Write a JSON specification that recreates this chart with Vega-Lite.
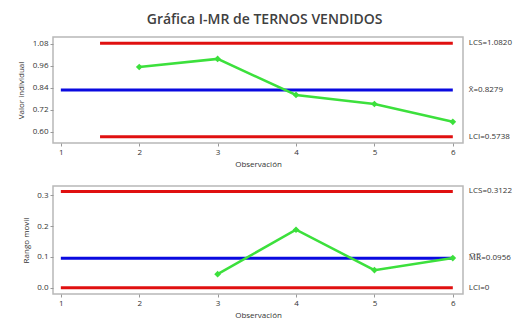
{
  "$schema": "https://vega.github.io/schema/vega-lite/v6.json",
  "background": "white",
  "padding": {"left": 16, "right": 4, "top": 13, "bottom": 2},
  "title": {"text": "Gráfica I-MR de TERNOS VENDIDOS", "fontSize": 14, "font": "Open Sans", "fontWeight": 600, "color": "#404040", "anchor": "middle", "offset": 9},
  "datasets": {
    "ind": [
      {"obs": 2, "value": 0.953},
      {"obs": 3, "value": 0.997},
      {"obs": 4, "value": 0.801},
      {"obs": 5, "value": 0.752},
      {"obs": 6, "value": 0.655}
    ],
    "indlim": [
      {"kind": "lim", "x0": 1.5, "x1": 6, "value": 1.082, "label": "LCS=1.0820"},
      {"kind": "center", "x0": 1, "x1": 6, "value": 0.8279, "label": "X̄=0.8279"},
      {"kind": "lim", "x0": 1.5, "x1": 6, "value": 0.5738, "label": "LCI=0.5738"}
    ],
    "mr": [
      {"obs": 3, "value": 0.044},
      {"obs": 4, "value": 0.188},
      {"obs": 5, "value": 0.057},
      {"obs": 6, "value": 0.096}
    ],
    "mrlim": [
      {"kind": "lim", "x0": 1, "x1": 6, "value": 0.3122, "label": "LCS=0.3122"},
      {"kind": "center", "x0": 1, "x1": 6, "value": 0.0956, "label": "M̅R̅=0.0956"},
      {"kind": "lim", "x0": 1, "x1": 6, "value": 0, "label": "LCI=0"}
    ]
  },
  "config": {
    "font": "Open Sans",
    "view": {"stroke": "#b8b8b8", "strokeWidth": 1.5},
    "axis": {"grid": false, "domain": false, "labelFontSize": 8, "labelColor": "#333333", "titleFontSize": 8, "titleFontWeight": "normal", "titleColor": "#333333", "tickColor": "#999999", "tickSize": 3, "labelPadding": 2, "labelOverlap": false, "tickCount": 20},
    "concat": {"spacing": 16}
  },
  "vconcat": [
    {
      "width": 410,
      "height": 106,
      "layer": [
        {
          "data": {"name": "indlim"},
          "mark": {"type": "rule", "strokeWidth": 3},
          "encoding": {
            "x": {"field": "x0", "type": "quantitative", "scale": {"domain": [0.9, 6.13], "nice": false, "zero": false}, "axis": {"values": [1, 2, 3, 4, 5, 6], "format": "d", "title": "Observación", "titlePadding": 4}},
            "x2": {"field": "x1"},
            "y": {"field": "value", "type": "quantitative", "scale": {"domain": [0.54, 1.116], "nice": false, "zero": false}, "axis": {"values": [0.6, 0.72, 0.84, 0.96, 1.08], "format": ".2f", "title": "Valor individual", "titlePadding": 7, "tickCount": 20}},
            "color": {"field": "kind", "type": "nominal", "scale": {"domain": ["lim", "center"], "range": ["#e01010", "#0a0ae0"]}, "legend": null}
          }
        },
        {
          "data": {"name": "indlim"},
          "mark": {"type": "text", "align": "left", "baseline": "middle", "dx": 16, "fontSize": 8, "color": "#333333"},
          "encoding": {
            "x": {"field": "x1", "type": "quantitative"},
            "y": {"field": "value", "type": "quantitative"},
            "text": {"field": "label"}
          }
        },
        {
          "data": {"name": "ind"},
          "mark": {"type": "line", "color": "#3ce03c", "strokeWidth": 2.5, "point": {"shape": "diamond", "size": 45, "filled": true, "color": "#3ce03c"}},
          "encoding": {
            "x": {"field": "obs", "type": "quantitative"},
            "y": {"field": "value", "type": "quantitative"}
          }
        }
      ]
    },
    {
      "width": 410,
      "height": 108,
      "layer": [
        {
          "data": {"name": "mrlim"},
          "mark": {"type": "rule", "strokeWidth": 3},
          "encoding": {
            "x": {"field": "x0", "type": "quantitative", "scale": {"domain": [0.9, 6.13], "nice": false, "zero": false}, "axis": {"values": [1, 2, 3, 4, 5, 6], "format": "d", "title": "Observación", "titlePadding": 4}},
            "x2": {"field": "x1"},
            "y": {"field": "value", "type": "quantitative", "scale": {"domain": [-0.0205, 0.33], "nice": false, "zero": false}, "axis": {"values": [0, 0.1, 0.2, 0.3], "format": ".1f", "title": "Rango movil", "titlePadding": 6, "tickCount": 20}},
            "color": {"field": "kind", "type": "nominal", "scale": {"domain": ["lim", "center"], "range": ["#e01010", "#0a0ae0"]}, "legend": null}
          }
        },
        {
          "data": {"name": "mrlim"},
          "mark": {"type": "text", "align": "left", "baseline": "middle", "dx": 16, "fontSize": 8, "color": "#333333"},
          "encoding": {
            "x": {"field": "x1", "type": "quantitative"},
            "y": {"field": "value", "type": "quantitative"},
            "text": {"field": "label"}
          }
        },
        {
          "data": {"name": "mr"},
          "mark": {"type": "line", "color": "#3ce03c", "strokeWidth": 2.5, "point": {"shape": "diamond", "size": 45, "filled": true, "color": "#3ce03c"}},
          "encoding": {
            "x": {"field": "obs", "type": "quantitative"},
            "y": {"field": "value", "type": "quantitative"}
          }
        }
      ]
    }
  ]
}
